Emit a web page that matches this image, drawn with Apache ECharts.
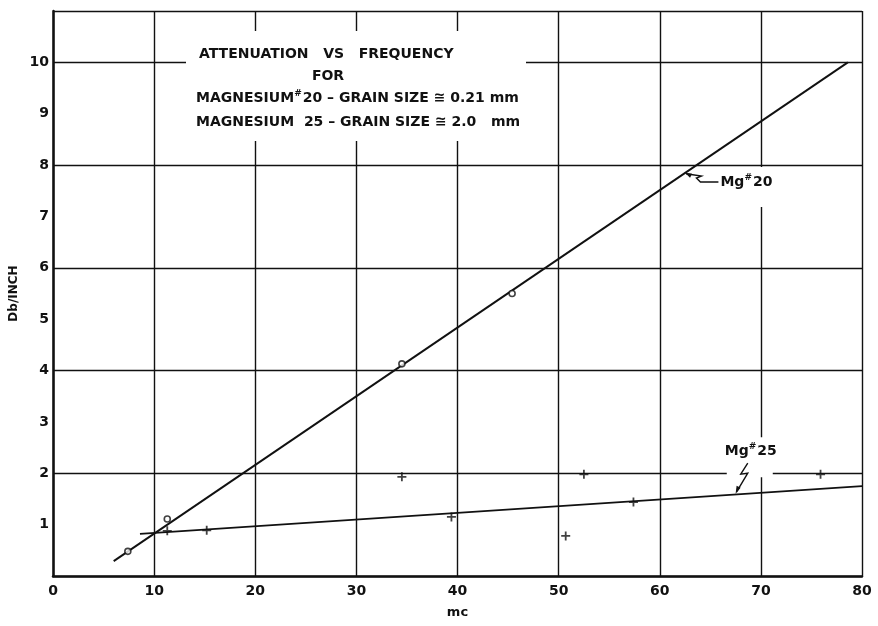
<!DOCTYPE html>
<html><head><meta charset="utf-8">
<script src="https://cdn.jsdelivr.net/npm/echarts@6/dist/echarts.min.js"></script>
<style>html,body{margin:0;padding:0;background:#fff}#c{width:878px;height:626px}</style>
</head><body><div id="c"></div>
<script>
// ---- data ----
const mg20Points = [[7.4, 0.48], [11.3, 1.11], [34.5, 4.13], [45.4, 5.5]];
const mg25Points = [[11.3, 0.88], [15.2, 0.89], [34.5, 1.93], [39.4, 1.15], [50.7, 0.78], [52.5, 1.98], [57.4, 1.44], [75.9, 1.98]];
const mg20Fit = [[6.0, 0.29], [78.6, 10.0]];
const mg25Fit = [[8.6, 0.82], [80, 1.75]];
const xTickLabels = ['0', '10', '20', '30', '40', '50', '60', '70', '80'];
const yTickLabels = ['1', '2', '3', '4', '5', '6', '7', '8', '9', '10'];
const titleLine1 = 'ATTENUATION   VS   FREQUENCY';
const titleLine2 = 'FOR';
const titleLine3 = ['MAGNESIUM', '#', '20 – GRAIN SIZE ≅ 0.21 mm'];
const titleLine4 = 'MAGNESIUM  25 – GRAIN SIZE ≅ 2.0   mm';
const mg20Anno = {name: ['Mg', '#', '20'], at: [66, 7.67], tip: [62.5, 7.85]};
const mg25Anno = {name: ['Mg', '#', '25'], at: [69.0, 2.43], tip: [67.5, 1.6]};

const FONT = 'DejaVu Sans';
const chart = echarts.init(document.getElementById('c'), null, {renderer: 'canvas'});
const plusPath = 'path://M4,0h2v4h4v2h-4v4h-2v-4h-4v-2h4z';

chart.setOption({
  animation: false,
  backgroundColor: '#fff',
  grid: {left: 53, right: 16, top: 11, bottom: 50, containLabel: false},
  xAxis: {
    type: 'value', min: 0, max: 80, interval: 10,
    name: 'mc', nameLocation: 'middle', nameGap: 30,
    nameTextStyle: {fontFamily: FONT, fontWeight: 'bold', fontSize: 13, color: '#111'},
    axisLine: {show: true, lineStyle: {color: '#111', width: 2.5}},
    axisTick: {show: false},
    axisLabel: {margin: 8, fontFamily: FONT, fontWeight: 'bold', fontSize: 14, color: '#111',
      formatter: v => xTickLabels[Math.round(v / 10)] ?? ''},
    splitLine: {show: true, lineStyle: {color: '#111', width: 1.4}}
  },
  yAxis: [{
    type: 'value', min: 0, max: 11, interval: 2, position: 'left',
    name: 'Db/INCH', nameLocation: 'middle', nameGap: 33, nameRotate: 90,
    nameTextStyle: {fontFamily: FONT, fontWeight: 'bold', fontSize: 12, color: '#111'},
    axisLine: {show: true, lineStyle: {color: '#111', width: 2.5}},
    axisTick: {show: false},
    axisLabel: {show: false},
    splitLine: {show: true, lineStyle: {color: '#111', width: 1.4}}
  }, {
    type: 'value', min: 0, max: 11, interval: 1, position: 'left',
    axisLine: {show: false}, axisTick: {show: false}, splitLine: {show: false},
    axisLabel: {margin: 4, fontFamily: FONT, fontWeight: 'bold', fontSize: 14, color: '#111',
      formatter: v => (v >= 1 && v <= 10) ? yTickLabels[v - 1] : ''}
  }],
  series: [
    {type: 'line', name: 'Mg#20 fit', data: mg20Fit, showSymbol: false, z: 3,
      lineStyle: {color: '#111', width: 1.9}},
    {type: 'line', name: 'Mg#25 fit', data: mg25Fit, showSymbol: false, z: 3,
      lineStyle: {color: '#111', width: 1.9}},
    {type: 'scatter', name: 'Mg#20', data: mg20Points, symbol: 'circle', symbolSize: 6, z: 4,
      itemStyle: {color: '#fff', borderColor: '#111', borderWidth: 1.6}},
    {type: 'scatter', name: 'Mg#25', data: mg25Points, symbol: plusPath, symbolSize: 9, z: 4,
      itemStyle: {color: '#111'}}
  ]
});

function richName(parts) { return '{a|' + parts[0] + '}{s|' + parts[1] + '}{a|' + parts[2] + '}'; }
const richStyle = {
  a: {fontFamily: FONT, fontWeight: 'bold', fontSize: 14, fill: '#111', lineHeight: 18},
  s: {fontFamily: FONT, fontWeight: 'bold', fontSize: 9, fill: '#111', lineHeight: 18, padding: [0, 1, 9, 0]}
};
const ts = {fontFamily: FONT, fontWeight: 'bold', fontSize: 14, fill: '#111'};

const p20 = chart.convertToPixel({gridIndex: 0}, mg20Anno.at);
const t20 = chart.convertToPixel({gridIndex: 0}, mg20Anno.tip);
const p25 = chart.convertToPixel({gridIndex: 0}, mg25Anno.at);
const t25 = chart.convertToPixel({gridIndex: 0}, mg25Anno.tip);

chart.setOption({
  graphic: [
    // blank box behind the title
    {type: 'rect', z: 1, shape: {x: 186, y: 31, width: 340, height: 110}, style: {fill: '#fff'}},
    {type: 'text', z: 5, x: 199, y: 54, style: Object.assign({text: titleLine1, verticalAlign: 'middle'}, ts)},
    {type: 'text', z: 5, x: 328, y: 76, style: Object.assign({text: titleLine2, align: 'center', verticalAlign: 'middle'}, ts)},
    {type: 'text', z: 5, x: 196, y: 98, style: {text: richName(titleLine3), verticalAlign: 'middle', rich: richStyle}},
    {type: 'text', z: 5, x: 196, y: 122, style: Object.assign({text: titleLine4, verticalAlign: 'middle'}, ts)},
    // Mg#20 label
    {type: 'rect', z: 1, shape: {x: p20[0] - 2, y: p20[1] - 15, width: 70, height: 40}, style: {fill: '#fff'}},
    {type: 'text', z: 5, x: p20[0], y: p20[1], style: {text: richName(mg20Anno.name), verticalAlign: 'middle', rich: richStyle}},
    {type: 'polyline', z: 5, shape: {points: [[p20[0] - 2, p20[1]], [p20[0] - 20, p20[1]], [p20[0] - 24, p20[1] - 4], [p20[0] - 19, p20[1] - 6], [t20[0] + 1, t20[1] + 1]]},
      style: {stroke: '#111', lineWidth: 1.4, fill: null}},
    {type: 'polygon', z: 5, shape: {points: [[t20[0], t20[1]], [t20[0] + 7, t20[1] + 1], [t20[0] + 5, t20[1] + 5]]}, style: {fill: '#111'}},
    // Mg#25 label
    {type: 'rect', z: 1, shape: {x: p25[0] - 24, y: p25[1] - 14, width: 46, height: 40}, style: {fill: '#fff'}},
    {type: 'text', z: 5, x: p25[0], y: p25[1], style: {text: richName(mg25Anno.name), align: 'center', verticalAlign: 'middle', rich: richStyle}},
    {type: 'polyline', z: 5, shape: {points: [[p25[0] - 3, p25[1] + 12], [p25[0] - 10, p25[1] + 23], [p25[0] - 3, p25[1] + 22], [t25[0] + 1, t25[1] - 2]]},
      style: {stroke: '#111', lineWidth: 1.4, fill: null}},
    {type: 'polygon', z: 5, shape: {points: [[t25[0], t25[1]], [t25[0] + 1, t25[1] - 8], [t25[0] + 5, t25[1] - 6]]}, style: {fill: '#111'}}
  ]
});
</script></body></html>
